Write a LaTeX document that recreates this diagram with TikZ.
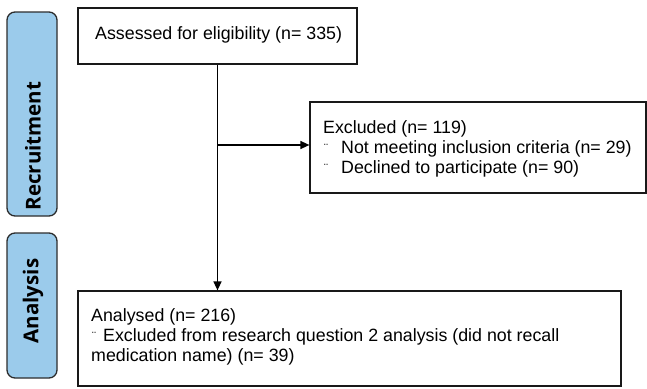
\documentclass[tikz,border=0pt]{standalone}
\usepackage{fontspec}
\setmainfont{Liberation Sans}
\newfontfamily\lanefont{Open Sans}
\usetikzlibrary{arrows.meta}
\definecolor{laneblue}{RGB}{155,203,235}
\definecolor{laneedge}{RGB}{45,45,45}
\definecolor{boxedge}{RGB}{25,25,25}
\newcommand{\bul}{{\fontsize{12}{12}\selectfont\raisebox{1pt}{¨}}}
\begin{document}
\begin{tikzpicture}[x=1pt,y=-1pt,
 box/.style={draw=boxedge, line width=1.2pt, inner sep=0pt, rectangle},
 lane/.style={draw=laneedge, fill=laneblue, line width=1.3pt, rounded corners=8pt, inner sep=0pt},
 lanetxt/.style={font=\lanefont\bfseries\fontsize{20.5}{24}\selectfont, rotate=90, inner sep=0pt},
 txt/.style={font=\fontsize{17.8}{20}\selectfont, inner sep=0pt, anchor=base west},
 flow/.style={line width=1.4pt, -{Triangle[length=9pt,width=8pt]}}
]
\useasboundingbox (0,0) rectangle (647,388);
% lanes
\node[lane, minimum width=50pt, minimum height=204pt] (recr) at (32,114) {};
\node[lanetxt] (recrt) at (33,146) {Recruitment};
\node[lane, minimum width=50pt, minimum height=145pt] (anal) at (32,305.5) {};
\node[lanetxt] (analt) at (33,301) {Analysis};
% boxes
\node[box, minimum width=279pt, minimum height=56pt] (assess) at (217.5,36) {};
\node[txt] (assesst) at (95,39) {Assessed for eligibility (n= 335)};
\node[box, minimum width=336pt, minimum height=91pt] (excl) at (478,147.5) {};
\node[txt] (exclt1) at (323,133) {Excluded (n= 119)};
\node[txt] (exclt2) at (324,153) {\makebox[17pt][l]{\bul}Not meeting inclusion criteria (n= 29)};
\node[txt] (exclt3) at (324,173) {\makebox[17pt][l]{\bul}Declined to participate (n= 90)};
\node[box, minimum width=543pt, minimum height=95pt] (analysed) at (349.5,338.5) {};
\node[txt] (ant1) at (91,321) {Analysed (n= 216)};
\node[txt] (ant2) at (92,341) {\makebox[11pt][l]{\bul}Excluded from research question 2 analysis (did not recall};
\node[txt] (ant3) at (91,361) {medication name) (n= 39)};
% connectors
\coordinate (branch) at (assess.south |- 0,145);
\draw[flow] (assess.south) -- (assess.south |- analysed.north);
\draw[flow] (branch) -- (branch -| excl.west);
\end{tikzpicture}
\end{document}
